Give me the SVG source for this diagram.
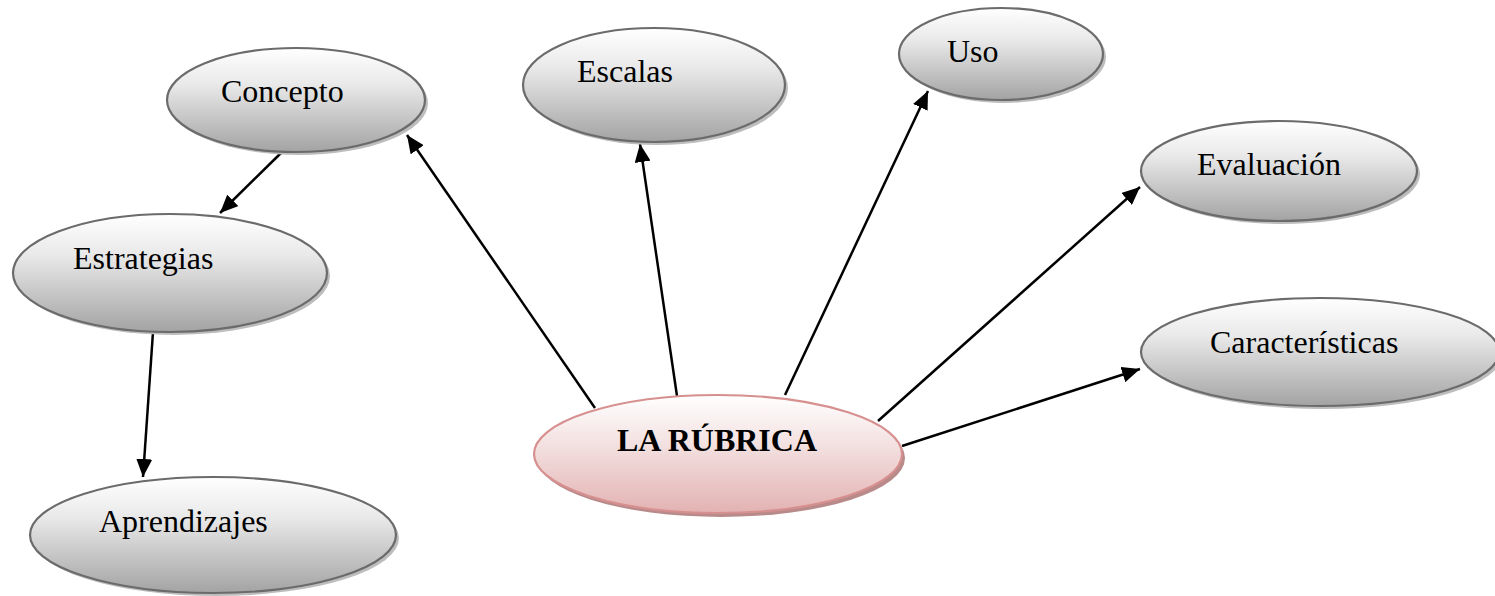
<svg xmlns="http://www.w3.org/2000/svg" width="1495" height="596" viewBox="0 0 1495 596">
<defs>
<linearGradient id="g" x1="0" y1="0" x2="0" y2="1">
<stop offset="0" stop-color="#ffffff"/>
<stop offset="0.35" stop-color="#e9e9e9"/>
<stop offset="1" stop-color="#a3a3a3"/>
</linearGradient>
<linearGradient id="r" x1="0" y1="0" x2="0" y2="1">
<stop offset="0" stop-color="#ffffff"/>
<stop offset="0.4" stop-color="#f4e2e2"/>
<stop offset="1" stop-color="#e3b2b2"/>
</linearGradient>
<marker id="ah" markerUnits="userSpaceOnUse" markerWidth="20" markerHeight="16" refX="18" refY="8" orient="auto">
<path d="M0,0 L18,8 L0,16 Z" fill="#000"/>
</marker>
</defs>
<style>
.n{fill:url(#g);stroke:#6b6b6b;stroke-width:2.2}
.s{fill:#bdbdbd}
.rn{fill:url(#r);stroke:#d6908f;stroke-width:2.2}
.rs{fill:#b98a8a}
.t{font-family:"Liberation Serif","Times New Roman",serif;font-size:32px;fill:#000}
.b{font-weight:bold}
.c line{stroke:#000;stroke-width:2.5;marker-end:url(#ah)}
</style>
<g class="c" id="connectors">
<line x1="595" y1="408" x2="407" y2="135"/>
<line x1="677" y1="396" x2="640" y2="144"/>
<line x1="785" y1="395" x2="928" y2="91"/>
<line x1="878" y1="421" x2="1140" y2="187"/>
<line x1="902" y1="446" x2="1140" y2="369"/>
<line x1="282" y1="152" x2="220" y2="213"/>
<line x1="153" y1="332" x2="143" y2="477"/>
</g>
<g id="concepto">
<ellipse class="s" cx="299" cy="103" rx="129" ry="52"/>
<ellipse class="n" cx="296" cy="100" rx="129" ry="52"/>
<text class="t" x="221" y="102">Concepto</text>
</g>
<g id="escalas">
<ellipse class="s" cx="657" cy="88" rx="131" ry="57"/>
<ellipse class="n" cx="654" cy="85" rx="131" ry="57"/>
<text class="t" x="577" y="82">Escalas</text>
</g>
<g id="uso">
<ellipse class="s" cx="1004" cy="57" rx="102" ry="46"/>
<ellipse class="n" cx="1001" cy="54" rx="102" ry="46"/>
<text class="t" x="947" y="62">Uso</text>
</g>
<g id="evaluacion">
<ellipse class="s" cx="1282" cy="174" rx="138" ry="50"/>
<ellipse class="n" cx="1279" cy="171" rx="138" ry="50"/>
<text class="t" x="1197" y="175">Evaluación</text>
</g>
<g id="caracteristicas">
<ellipse class="s" cx="1323" cy="355" rx="179" ry="54"/>
<ellipse class="n" cx="1320" cy="352" rx="179" ry="54"/>
<text class="t" x="1210" y="353">Características</text>
</g>
<g id="estrategias">
<ellipse class="s" cx="173" cy="276" rx="157" ry="59"/>
<ellipse class="n" cx="170" cy="273" rx="157" ry="59"/>
<text class="t" x="73" y="269">Estrategias</text>
</g>
<g id="aprendizajes">
<ellipse class="s" cx="216" cy="538" rx="183" ry="58"/>
<ellipse class="n" cx="213" cy="535" rx="183" ry="58"/>
<text class="t" x="99" y="532">Aprendizajes</text>
</g>
<g id="rubrica">
<ellipse class="rs" cx="721" cy="458" rx="184" ry="59"/>
<ellipse class="rn" cx="718" cy="454" rx="184" ry="59"/>
<text class="t b" x="617" y="451">LA RÚBRICA</text>
</g>
</svg>
